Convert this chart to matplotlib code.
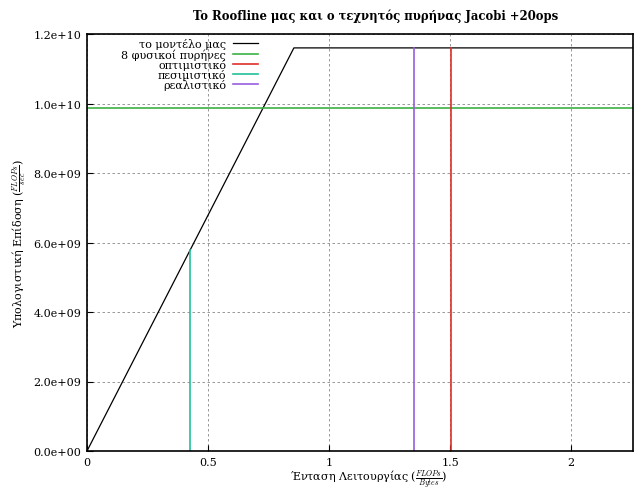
import matplotlib
matplotlib.use("Agg")
import matplotlib.pyplot as plt
from matplotlib.ticker import FuncFormatter

# roofline model values
peak = 1.16e10          # FLOPs/sec, roof
bandwidth = 1.357e10    # Bytes/sec, slope
xmax = 2.256
cores8 = 9.87e9         # 8 physical cores

# operational intensity of the jacobi kernel
intensities = {"οπτιμιστικό": 1.504, "πεσιμιστικό": 0.426, "ρεαλιστικό": 1.351}
colors = {"οπτιμιστικό": "#e0302a", "πεσιμιστικό": "#20c09a", "ρεαλιστικό": "#9a5ee0"}

plt.rcParams["font.family"] = ["DejaVu Serif"]
plt.rcParams["mathtext.fontset"] = "cm"
plt.rcParams["font.size"] = 8

fig = plt.figure(figsize=(6.36, 4.89), dpi=100)
ax = fig.add_axes([87 / 636, 1 - 452 / 489, 546 / 636, 417 / 489])

knee = peak / bandwidth
ax.plot([0, knee, xmax], [0, peak, peak], color="black", lw=0.9, label="το μοντέλο μας")
ax.axhline(cores8, color="#3cb043", lw=1.2, label="8 φυσικοί πυρήνες")
for name, oi in intensities.items():
    top = min(peak, bandwidth * oi)
    ax.plot([oi, oi], [0, top], color=colors[name], lw=1.2, label=name)

ax.set_xlim(0, xmax)
ax.set_ylim(0, 1.2e10)
ax.set_xticks([0, 0.5, 1, 1.5, 2])
ax.set_yticks([i * 2e9 for i in range(7)])
ax.xaxis.set_major_formatter(FuncFormatter(lambda v, p: "%g" % v))
ax.yaxis.set_major_formatter(FuncFormatter(lambda v, p: "%.1e" % v))
ax.tick_params(direction="in", length=4, width=0.8, pad=4)
ax.grid(True, color="#888888", ls=(0, (3, 3)), lw=0.6)
for s in ax.spines.values():
    s.set_linewidth(1.2)

ax.set_title("To Roofline μας και ο τεχνητός πυρήνας Jacobi +20ops", fontweight="bold",
             fontsize=8.4, x=0.528, pad=11)
ax.set_xlabel(r"Ένταση Λειτουργίας ($\frac{FLOPs}{Bytes}$)")
ax.xaxis.set_label_coords(0.515, -0.04, transform=ax.transAxes)
ax.xaxis.label.set_va("top")
ax.set_ylabel(r"Υπολογιστική Επίδοση ($\frac{FLOPs}{sec}$)", labelpad=4)

ax.legend(loc="upper right", bbox_to_anchor=((258 - 87) / 546, 0.99), frameon=False,
          markerfirst=False, labelspacing=-0.08, handlelength=2.25, handletextpad=0.6,
          borderpad=0, borderaxespad=0)

fig.savefig("out.png", dpi=100)
